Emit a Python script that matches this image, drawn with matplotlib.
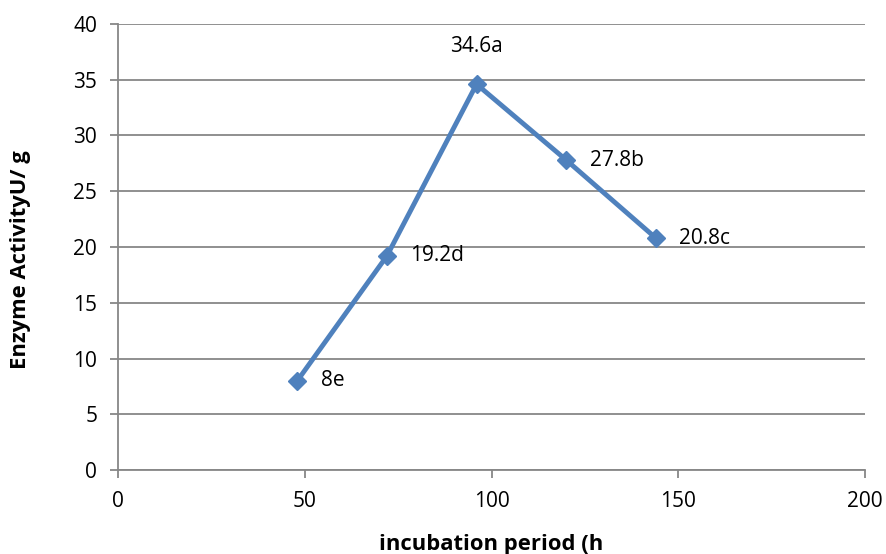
import matplotlib
matplotlib.use("Agg")
import matplotlib.pyplot as plt

# incubation period (h) vs enzyme activity
hours = [48, 72, 96, 120, 144]
activity = [8, 19.2, 34.6, 27.8, 20.8]
labels = ["8e", "19.2d", "34.6a", "27.8b", "20.8c"]

plt.rcParams['font.family'] = ['Open Sans', 'DejaVu Sans']

fig = plt.figure(figsize=(8.86, 5.54), dpi=100)
ax = fig.add_axes([0.1332, 0.1516, 0.8431, 0.8051])

ax.plot(hours, activity, color="#4F81BD", linewidth=3.5, marker="D",
        markersize=9, zorder=3)

for x, y, lab in zip(hours, activity, labels):
    if lab.endswith("a"):
        ax.annotate(lab, (x, y), xytext=(0, 27), textcoords="offset points",
                    ha="center", va="center", fontsize=15)
    else:
        ax.annotate(lab, (x, y), xytext=(17, 0), textcoords="offset points",
                    ha="left", va="center", fontsize=15)

ax.set_xlim(0, 200)
ax.set_ylim(0, 40)
ax.set_xticks([0, 50, 100, 150, 200])
ax.set_yticks(range(0, 41, 5))
ax.yaxis.grid(True, color="#878787", linewidth=1.3)
ax.set_axisbelow(True)

for side in ["top", "right"]:
    ax.spines[side].set_visible(False)
for side in ["left", "bottom"]:
    ax.spines[side].set_color("#878787")
    ax.spines[side].set_linewidth(1.3)
ax.tick_params(axis="both", colors="#878787", length=6, width=1.3,
               labelsize=15, labelcolor="black")
ax.tick_params(axis="x", pad=9)
ax.tick_params(axis="y", pad=9)

ax.set_xlabel("incubation period (h", fontsize=15.8, fontweight="bold")
ax.set_ylabel("Enzyme ActivityU/ g", fontsize=15.8, fontweight="bold")
ax.xaxis.set_label_coords(0.5, -0.143)
ax.yaxis.set_label_coords(-0.117, 0.471)

fig.savefig("out.png", dpi=100)
